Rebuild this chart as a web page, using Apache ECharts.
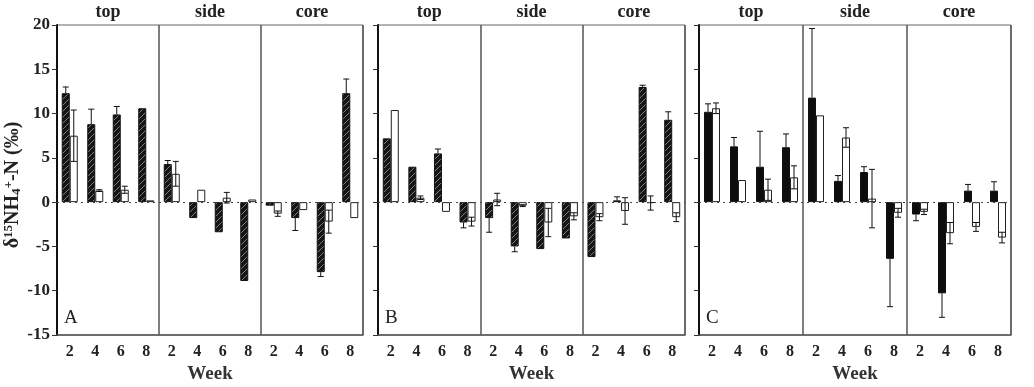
<!DOCTYPE html>
<html>
<head>
<meta charset="utf-8">
<script src="https://cdn.jsdelivr.net/npm/echarts@6/dist/echarts.min.js"></script>
<style>
  html, body { margin: 0; padding: 0; background: #fff; }
  #chart { width: 1034px; height: 387px; }
</style>
</head>
<body>
<div id="chart"></div>
<script>
const weeks = ['2', '4', '6', '8', '2', '4', '6', '8', '2', '4', '6', '8'];
const sections = ['top', 'side', 'core'];
const yTicks = { min: -15, max: 20, step: 5 };

// panel A (hatched + open bars), order: top wk2..8, side wk2..8, core wk2..8
const aFilled = [12.3, 8.8, 9.9, 10.6, 4.3, -1.8, -3.4, -8.9, -0.4, -1.8, -7.9, 12.3];
const aFilledErr = [0.7, 1.7, 0.9, 0, 0.4, 0, 0, 0, 0, 1.4, 0.5, 1.6];
const aOpen = [7.5, 1.3, 1.4, 0.2, 3.2, 1.4, 0.5, 0.3, -1.3, -0.9, -2.2, -1.8];
const aOpenErr = [2.9, 0.1, 0.4, 0, 1.4, 0, 0.6, 0, 0.3, 0, 1.3, 0];

// panel B
const bFilled = [7.2, 4.0, 5.5, -2.3, -1.8, -5.0, -5.3, -4.1, -6.2, 0.2, 13.0, 9.3];
const bFilledErr = [0, 0, 0.5, 0.6, 1.6, 0.6, 0, 0, 0, 0.4, 0.2, 0.9];
const bOpen = [10.4, 0.5, -1.1, -2.2, 0.3, -0.4, -2.3, -1.6, -1.7, -1.0, -0.1, -1.7];
const bOpenErr = [0, 0.2, 0, 0.5, 0.7, 0.1, 1.6, 0.4, 0.4, 1.5, 0.8, 0.5];

// panel C (solid + open bars)
const cFilled = [10.2, 6.3, 4.0, 6.2, 11.8, 2.4, 3.4, -6.4, -1.4, -10.3, 1.3, 1.3];
const cFilledErr = [0.9, 1.0, 4.0, 1.5, 7.8, 0.6, 0.6, 5.4, 0.7, 2.7, 0.7, 1.0];
const cOpen = [10.6, 2.5, 1.4, 2.8, 9.8, 7.3, 0.4, -1.2, -1.1, -3.5, -2.8, -4.0];
const cOpenErr = [0.6, 0, 1.2, 1.3, 0, 1.1, 3.3, 0.5, 0.3, 1.2, 0.5, 0.6];

const panels = [
  { label: 'A', filled: aFilled, filledErr: aFilledErr, open: aOpen, openErr: aOpenErr, hatched: true, left: 57, width: 306 },
  { label: 'B', filled: bFilled, filledErr: bFilledErr, open: bOpen, openErr: bOpenErr, hatched: true, left: 378, width: 307 },
  { label: 'C', filled: cFilled, filledErr: cFilledErr, open: cOpen, openErr: cOpenErr, hatched: false, left: 699, width: 312 },
];

const serif = '"Liberation Serif", "DejaVu Serif", serif';
const gridTop = 25;
const gridHeight = 310;
const barW = 8;

function hatchPattern() {
  const c = document.createElement('canvas');
  c.width = 6;
  c.height = 6;
  const ctx = c.getContext('2d');
  ctx.fillStyle = '#151515';
  ctx.fillRect(0, 0, 6, 6);
  ctx.strokeStyle = '#808080';
  ctx.lineWidth = 1;
  ctx.beginPath();
  ctx.moveTo(0, 6); ctx.lineTo(6, 0);
  ctx.moveTo(-3, 3); ctx.lineTo(3, -3);
  ctx.moveTo(3, 9); ctx.lineTo(9, 3);
  ctx.stroke();
  return c;
}
const hatch = { image: hatchPattern(), repeat: 'repeat' };

function errorSeries(gi, values, errs, offset, symmetric) {
  return {
    type: 'custom',
    xAxisIndex: gi * 2,
    yAxisIndex: gi,
    z: 5,
    silent: true,
    data: values.map((v, i) => [i, v, errs[i]]),
    encode: { x: 0, y: 1 },
    renderItem(params, api) {
      const idx = api.value(0);
      const val = api.value(1);
      const err = api.value(2);
      if (!err) return null;
      const sign = val >= 0 ? 1 : -1;
      const from = symmetric ? val - sign * err : val;
      const to = val + sign * err;
      const p0 = api.coord([idx, from]);
      const p1 = api.coord([idx, to]);
      const x = p0[0] + offset;
      const style = { stroke: '#111', lineWidth: 1 };
      const kids = [
        { type: 'line', shape: { x1: x, y1: p0[1], x2: x, y2: p1[1] }, style },
        { type: 'line', shape: { x1: x - 3, y1: p1[1], x2: x + 3, y2: p1[1] }, style },
      ];
      if (symmetric) {
        kids.push({ type: 'line', shape: { x1: x - 3, y1: p0[1], x2: x + 3, y2: p0[1] }, style });
      }
      return { type: 'group', children: kids };
    },
  };
}

const grids = [];
const xAxes = [];
const yAxes = [];
const series = [];
const graphics = [];

panels.forEach((p, gi) => {
  grids.push({
    left: p.left, top: gridTop, width: p.width, height: gridHeight,
    outerBoundsMode: 'none',
    containLabel: false,
    show: true, borderColor: '#666', borderWidth: 1, backgroundColor: 'transparent',
  });
  xAxes.push({
    type: 'category',
    gridIndex: gi,
    data: weeks,
    position: 'bottom',
    axisLine: { show: true, onZero: false, lineStyle: { color: '#555', width: 1.5 } },
    axisTick: { show: false },
    axisLabel: { color: '#222', fontFamily: serif, fontWeight: 'bold', fontSize: 16, margin: 9, interval: 0 },
    splitLine: {
      show: true,
      interval: (index) => index === 4 || index === 8,
      lineStyle: { color: '#555', width: 1.5 },
    },
    name: 'Week',
    nameLocation: 'middle',
    nameGap: 29,
    nameTextStyle: { color: '#333', fontFamily: serif, fontWeight: 'bold', fontSize: 19 },
  });
  xAxes.push({
    type: 'category',
    gridIndex: gi,
    data: sections,
    position: 'top',
    axisLine: { show: false },
    axisTick: { show: false },
    axisLabel: { color: '#222', fontFamily: serif, fontWeight: 'bold', fontSize: 18, margin: 4 },
  });
  yAxes.push({
    type: 'value',
    gridIndex: gi,
    min: yTicks.min,
    max: yTicks.max,
    interval: yTicks.step,
    axisLine: { show: true, lineStyle: { color: '#111', width: 2 } },
    axisTick: { show: true, inside: false, length: 5, lineStyle: { color: '#333', width: 1 } },
    axisLabel: {
      show: gi === 0,
      color: '#222', fontFamily: serif, fontWeight: 'bold', fontSize: 17, margin: 7,
    },
    splitLine: { show: false },
    name: gi === 0 ? 'δ{sup|15}NH{sub|4}{sup|+}-N (‰)' : '',
    nameLocation: 'middle',
    nameGap: 34,
    nameRotate: 90,
    nameTextStyle: {
      color: '#222', fontFamily: serif, fontWeight: 'bold', fontSize: 20,
      padding: [0, 10, 0, 0],
      rich: {
        sup: { fontFamily: serif, fontWeight: 'bold', fontSize: 13, padding: [0, 0, 8, 0] },
        sub: { fontFamily: serif, fontWeight: 'bold', fontSize: 13, padding: [8, 0, 0, 0] },
      },
    },
  });

  series.push({
    type: 'bar',
    xAxisIndex: gi * 2,
    yAxisIndex: gi,
    data: p.filled,
    barWidth: barW,
    barGap: '0%',
    itemStyle: { color: p.hatched ? hatch : '#0d0d0d', borderColor: '#111', borderWidth: 1 },
    markLine: {
      silent: true,
      symbol: 'none',
      label: { show: false },
      lineStyle: { color: '#444', type: [2, 4], width: 1 },
      data: [{ yAxis: 0 }],
    },
  });
  series.push({
    type: 'bar',
    xAxisIndex: gi * 2,
    yAxisIndex: gi,
    data: p.open,
    barWidth: barW,
    barGap: '0%',
    itemStyle: { color: '#fff', borderColor: '#222', borderWidth: 1 },
  });
  series.push(errorSeries(gi, p.filled, p.filledErr, -barW / 2, false));
  series.push(errorSeries(gi, p.open, p.openErr, barW / 2, true));

  graphics.push({
    type: 'text',
    left: p.left + 7,
    top: 309,
    style: { text: p.label, font: '19px ' + serif, fill: '#222' },
  });
});

const chart = echarts.init(document.getElementById('chart'), null, { renderer: 'canvas' });
chart.setOption({
  animation: false,
  backgroundColor: '#fff',
  grid: grids,
  xAxis: xAxes,
  yAxis: yAxes,
  series: series,
  graphic: graphics,
});
</script>
</body>
</html>
